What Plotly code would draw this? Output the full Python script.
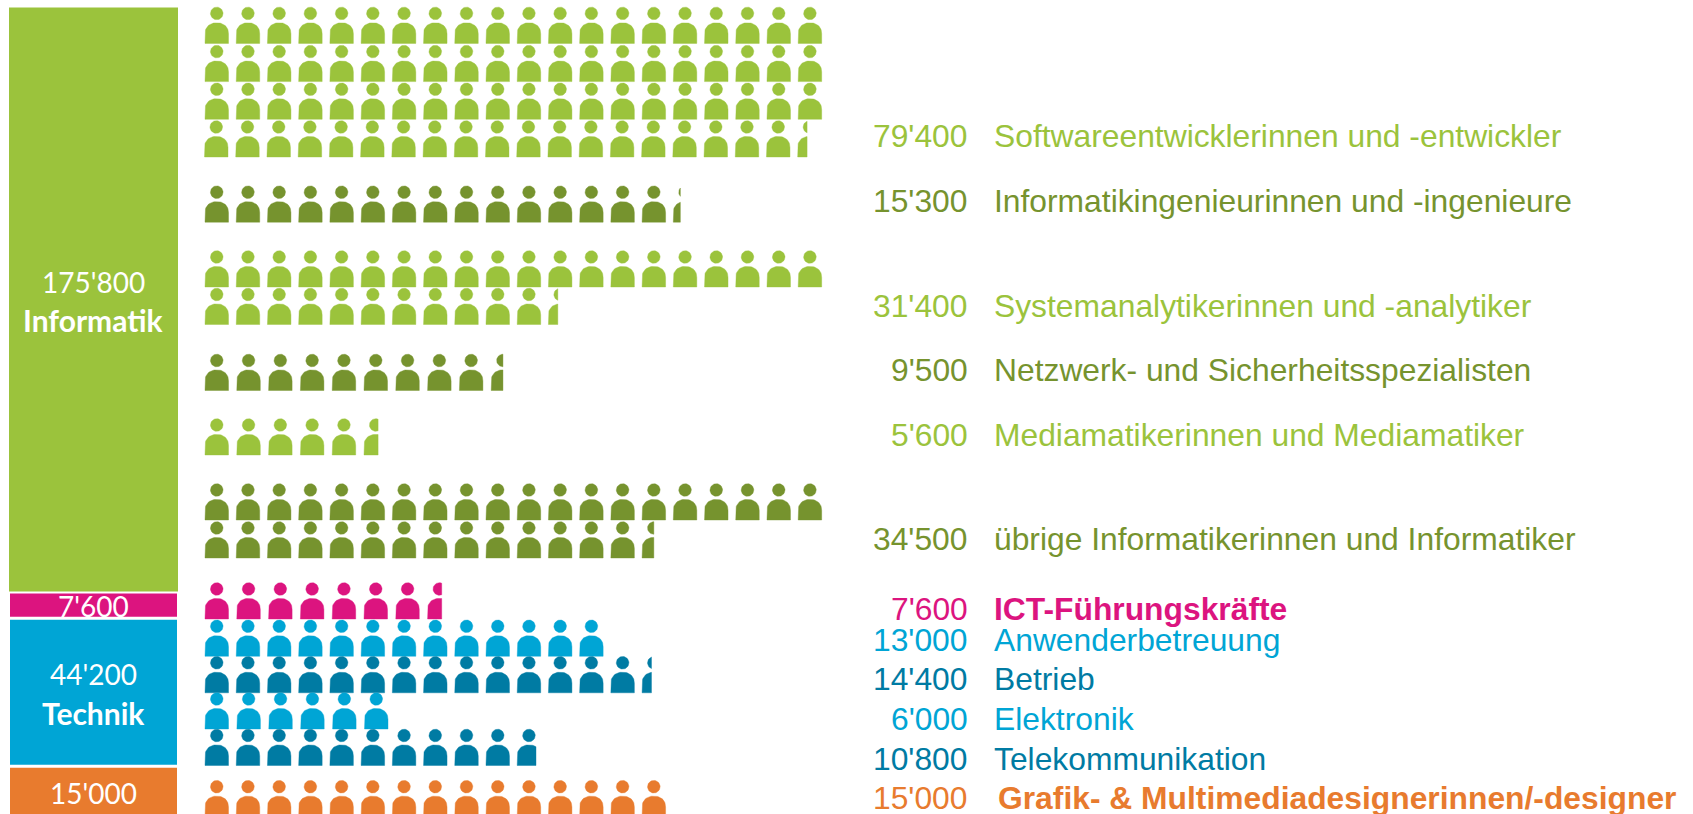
import numpy as np
import plotly.graph_objects as go

# ---------- data ----------
occupations = ["Softwareentwicklerinnen und -entwickler", "Informatikingenieurinnen und -ingenieure",
               "Systemanalytikerinnen und -analytiker", "Netzwerk- und Sicherheitsspezialisten",
               "Mediamatikerinnen und Mediamatiker", "übrige Informatikerinnen und Informatiker",
               "ICT-Führungskräfte", "Anwenderbetreuung", "Betrieb", "Elektronik", "Telekommunikation",
               "Grafik- & Multimediadesignerinnen/-designer"]
occupation_values = [79400, 15300, 31400, 9500, 5600, 34500, 7600, 13000, 14400, 6000, 10800, 15000]
group_names = ["Informatik", "", "Technik", ""]
group_values = [175800, 7600, 44200, 15000]

# ---------- layout & style (pixels on a 1693x814 canvas) ----------
W, H = 1693, 814
PER_ICON, PER_ROW = 1000, 20
LG, DG, PK, LB, DB, OR = "#9bc33c", "#76932e", "#dc147f", "#00a5d5", "#007ba3", "#e87b2e"
occ_colors = [LG, DG, LG, DG, LG, DG, PK, LB, DB, LB, DB, OR]
group_colors = [LG, PK, LB, OR]
head_rows = [[13.4, 51.6, 89.3, 127], [192.2], [257, 294.5], [360.5], [425], [490, 528],
             [589], [626.3], [662.8], [699], [735.5], [786.7]]
pitches = [31.22, 31.22, 31.22, 31.8, 31.8, 31.22, 31.8, 31.22, 31.22, 31.9, 31.22, 31.22]
text_y = [136, 201, 305.5, 370, 435, 539, 609, 640, 679, 719, 759, 798]
X0, BW, HEAD_R = 205, 23.5, 6.3
BODY_OFF, BODY_H, DOME_H, DOME_P = 9.4, 20.6, 11, 0.9
PX_PER_UNIT = 585 / 175800
BAR_TOP, BAR_GAP = 7.5, 1 / (585 / 175800)


def clip_right(xs, ys, cut):
    """Clip a closed polygon to x <= cut."""
    ox, oy = [], []
    n = len(xs)
    for i in range(n):
        x1, y1, x2, y2 = xs[i], ys[i], xs[(i + 1) % n], ys[(i + 1) % n]
        if x1 <= cut:
            ox.append(x1); oy.append(y1)
        if (x1 <= cut) != (x2 <= cut):
            t = (cut - x1) / (x2 - x1)
            ox.append(cut); oy.append(y1 + t * (y2 - y1))
    return ox, oy


def icon(left, head_y, frac):
    cut = left + BW * frac
    cx = left + BW / 2
    t = np.linspace(0, 2 * np.pi, 40, endpoint=False)
    hx, hy = cx + HEAD_R * np.cos(t), head_y + HEAD_R * np.sin(t)
    a = np.linspace(np.pi, 2 * np.pi, 32)
    r = BW / 2
    top = head_y + BODY_OFF
    c, s = np.cos(a), -np.sin(a)
    bx = np.concatenate([[left], cx + r * np.sign(c) * np.abs(c) ** DOME_P, [left + BW]])
    by = np.concatenate([[top + BODY_H], top + DOME_H - DOME_H * np.abs(s) ** DOME_P, [top + BODY_H]])
    return clip_right(list(hx), list(hy), cut), clip_right(list(bx), list(by), cut)


fig = go.Figure()

# left stacked bar, on a value axis
base = 0
for i, (v, c) in enumerate(zip(group_values, group_colors)):
    fig.add_trace(go.Bar(x=[93.5], y=[v], base=[base], width=[169], yaxis="y2", marker_color=c,
                         marker_line_color="white", marker_line_width=0 if i == 0 else 2,
                         showlegend=False, hoverinfo="skip"))
    base += v + (BAR_GAP if i > 0 else 0)

# pictogram rows
for v, color, rows, pitch in zip(occupation_values, occ_colors, head_rows, pitches):
    n = v / PER_ICON
    xs, ys = [], []
    for k in range(int(np.ceil(n))):
        frac = min(1, n - k)
        row, col = k // PER_ROW, k % PER_ROW
        shift = -0.5 if len(rows) > 3 and row == 3 else 0
        for px, py in icon(X0 + shift + col * pitch, rows[row], frac):
            if px:
                xs += px + [px[0], None]
                ys += py + [py[0], None]
    fig.add_trace(go.Scatter(x=xs, y=ys, mode="lines", fill="toself", fillcolor=color,
                             line=dict(width=0.4, color=color), showlegend=False, hoverinfo="skip"))

ann = []
R, L = 970, 991.5
for name, v, color, y in zip(occupations, occupation_values, occ_colors, text_y):
    num = f"{v:,}".replace(",", "'")
    bold = name.startswith(("ICT", "Grafik"))
    ann.append(dict(x=R, y=y, text=num, xanchor="right", font=dict(color=color, size=31.8, family="Liberation Sans")))
    ann.append(dict(x=L + (4 if name.startswith("Grafik") else 0), y=y, xanchor="left",
                    text=f"<b>{name}</b>" if bold else name,
                    font=dict(color=color, size=31.8, family="Liberation Sans")))
cx = 93
LATO = dict(color="white", size=28, family="Lato")
LATOB = dict(color="white", size=30, family="Lato")
ann += [dict(x=cx, y=282, text="175'800", font=LATO), dict(x=cx, y=320, text="<b>Informatik</b>", font=LATOB),
        dict(x=cx, y=606, text="7'600", font=LATO), dict(x=cx, y=674, text="44'200", font=LATO),
        dict(x=cx, y=713, text="<b>Technik</b>", font=LATOB), dict(x=cx, y=793, text="15'000", font=LATO)]
for a in ann:
    a.update(xref="x", yref="y", showarrow=False, yanchor="middle")
    a.setdefault("xanchor", "center")

fig.update_layout(
    width=W, height=H, margin=dict(l=0, r=0, t=0, b=0), paper_bgcolor="white", plot_bgcolor="white",
    barmode="overlay", annotations=ann, showlegend=False,
    xaxis=dict(range=[0, W], visible=False, fixedrange=True),
    yaxis=dict(range=[H, 0], visible=False, fixedrange=True),
    yaxis2=dict(range=[(H - BAR_TOP) / PX_PER_UNIT, -BAR_TOP / PX_PER_UNIT], visible=False,
                overlaying="y", fixedrange=True),
)
fig.write_html("out.html", config=dict(displayModeBar=False),
               post_script="document.body.style.margin='0';document.body.style.overflow='hidden';")
